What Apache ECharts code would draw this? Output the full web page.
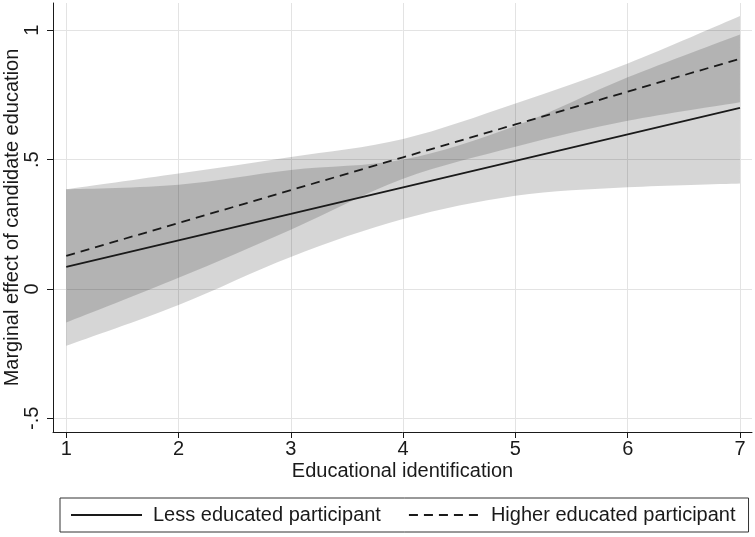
<!DOCTYPE html>
<html>
<head>
<meta charset="utf-8">
<title>Marginal effect of candidate education</title>
<script src="https://cdn.jsdelivr.net/npm/echarts/dist/echarts.min.js"></script>
<style>
  html, body { margin: 0; padding: 0; background: #fff; }
  #chart { width: 755px; height: 537px; }
</style>
</head>
<body>
<div id="chart"></div>
<script>
// educational identification (x)
const xValues = [1, 2, 3, 4, 5, 6, 7];

// less educated participant: estimate and 95% CI
const lessEst = [0.085, 0.188, 0.290, 0.393, 0.495, 0.598, 0.700];
const lessLo  = [-0.220, -0.062, 0.124, 0.270, 0.360, 0.393, 0.408];
const lessHi  = [0.385, 0.403, 0.460, 0.500, 0.630, 0.818, 0.984];

// higher educated participant: estimate and 95% CI
const higherEst = [0.128, 0.255, 0.382, 0.509, 0.636, 0.763, 0.890];
const higherLo  = [-0.130, 0.043, 0.229, 0.426, 0.550, 0.650, 0.722];
const higherHi  = [0.385, 0.446, 0.510, 0.580, 0.717, 0.872, 1.055];

// tick labels
const xTicks = [1, 2, 3, 4, 5, 6, 7];
const yTicks = [-0.5, 0, 0.5, 1];
const yTickLabels = ['-.5', '0', '.5', '1'];

const seriesNames = ['Less educated participant', 'Higher educated participant'];

const FONT = "'Liberation Sans', Arial, sans-serif";
const INK = '#1a1a1a';
const BAND = 'rgba(0,0,0,0.16)';

// smooth curve through pixel points (catmull-rom -> bezier), like smooth:true on a line
function curveTo(pts) {
  let d = '';
  for (let i = 0; i < pts.length - 1; i++) {
    let p0 = pts[Math.max(i - 1, 0)], p1 = pts[i], p2 = pts[i + 1], p3 = pts[Math.min(i + 2, pts.length - 1)];
    let c1 = [p1[0] + (p2[0] - p0[0]) / 6, p1[1] + (p2[1] - p0[1]) / 6];
    let c2 = [p2[0] - (p3[0] - p1[0]) / 6, p2[1] - (p3[1] - p1[1]) / 6];
    d += ' C' + c1[0] + ',' + c1[1] + ' ' + c2[0] + ',' + c2[1] + ' ' + p2[0] + ',' + p2[1];
  }
  return d;
}

// CI band drawn as one filled shape: upper edge left->right, lower edge back
function bandSeries(lo, hi) {
  return {
    type: 'custom',
    silent: true,
    z: 1,
    data: xValues.map((x, i) => [x, lo[i], hi[i]]),
    encode: { x: 0, y: [1, 2] },
    renderItem: function (params, api) {
      if (params.dataIndex !== 0) return;
      let up = xValues.map((x, i) => api.coord([x, hi[i]]));
      let dn = xValues.map((x, i) => api.coord([x, lo[i]])).reverse();
      let d = 'M' + up[0][0] + ',' + up[0][1] + curveTo(up) +
              ' L' + dn[0][0] + ',' + dn[0][1] + curveTo(dn) + ' Z';
      return {
        type: 'path',
        shape: { pathData: d },
        style: { fill: BAND, stroke: null }
      };
    }
  };
}

function lineSeries(name, est, dash) {
  return {
    name: name,
    type: 'line',
    z: 3,
    data: xValues.map((x, i) => [x, est[i]]),
    symbol: 'none',
    lineStyle: { color: INK, width: 1.8, type: dash ? [9, 6] : 'solid' },
    itemStyle: { color: INK }
  };
}

const chart = echarts.init(document.getElementById('chart'), null, { renderer: 'canvas' });

const option = {
  animation: false,
  backgroundColor: '#fff',
  textStyle: { fontFamily: FONT },
  grid: { left: 53, right: 3, top: 3, bottom: 105, containLabel: false, outerBoundsMode: 'none' },
  xAxis: {
    type: 'value',
    min: 0.882,
    max: 7.107,
    name: 'Educational identification',
    nameLocation: 'middle',
    nameGap: 29,
    nameMoveOverlap: false,
    nameTextStyle: { fontSize: 20, color: INK, fontFamily: FONT },
    axisLine: { show: true, onZero: false, lineStyle: { color: INK, width: 1 } },
    axisTick: { show: true, length: 6, customValues: xTicks, lineStyle: { color: INK } },
    axisLabel: { customValues: xTicks, fontSize: 20, color: INK, margin: 7, fontFamily: FONT },
    splitLine: { show: true, lineStyle: { color: '#e3e3e3', width: 1 } }
  },
  yAxis: {
    type: 'value',
    min: -0.553,
    max: 1.1055,
    name: 'Marginal effect of candidate education',
    nameLocation: 'middle',
    nameRotate: 90,
    nameGap: 31,
    nameMoveOverlap: false,
    nameTextStyle: { fontSize: 20, color: INK, fontFamily: FONT },
    axisLine: { show: true, onZero: false, lineStyle: { color: INK, width: 1 } },
    axisTick: { show: true, length: 6, customValues: yTicks, lineStyle: { color: INK } },
    axisLabel: {
      customValues: yTicks,
      rotate: 90,
      fontSize: 20,
      color: INK,
      margin: 11,
      fontFamily: FONT,
      formatter: function (v) {
        let i = yTicks.findIndex(t => Math.abs(t - v) < 1e-9);
        return i >= 0 ? yTickLabels[i] : '';
      }
    },
    splitLine: { show: true, lineStyle: { color: '#e3e3e3', width: 1 } }
  },
  legend: {
    data: seriesNames,
    left: 60,
    top: 498,
    orient: 'horizontal',
    itemWidth: 71,
    itemHeight: 20,
    itemGap: 27,
    padding: [7, 13, 7, 10],
    borderColor: '#333',
    borderWidth: 1,
    backgroundColor: '#fff',
    itemStyle: { opacity: 0 },
    textStyle: { fontSize: 20, color: INK, fontFamily: FONT, padding: [0, 0, 0, 6] }
  },
  series: [
    bandSeries(lessLo, lessHi),
    bandSeries(higherLo, higherHi),
    lineSeries(seriesNames[0], lessEst, false),
    lineSeries(seriesNames[1], higherEst, true)
  ]
};

chart.setOption(option);
</script>
</body>
</html>
